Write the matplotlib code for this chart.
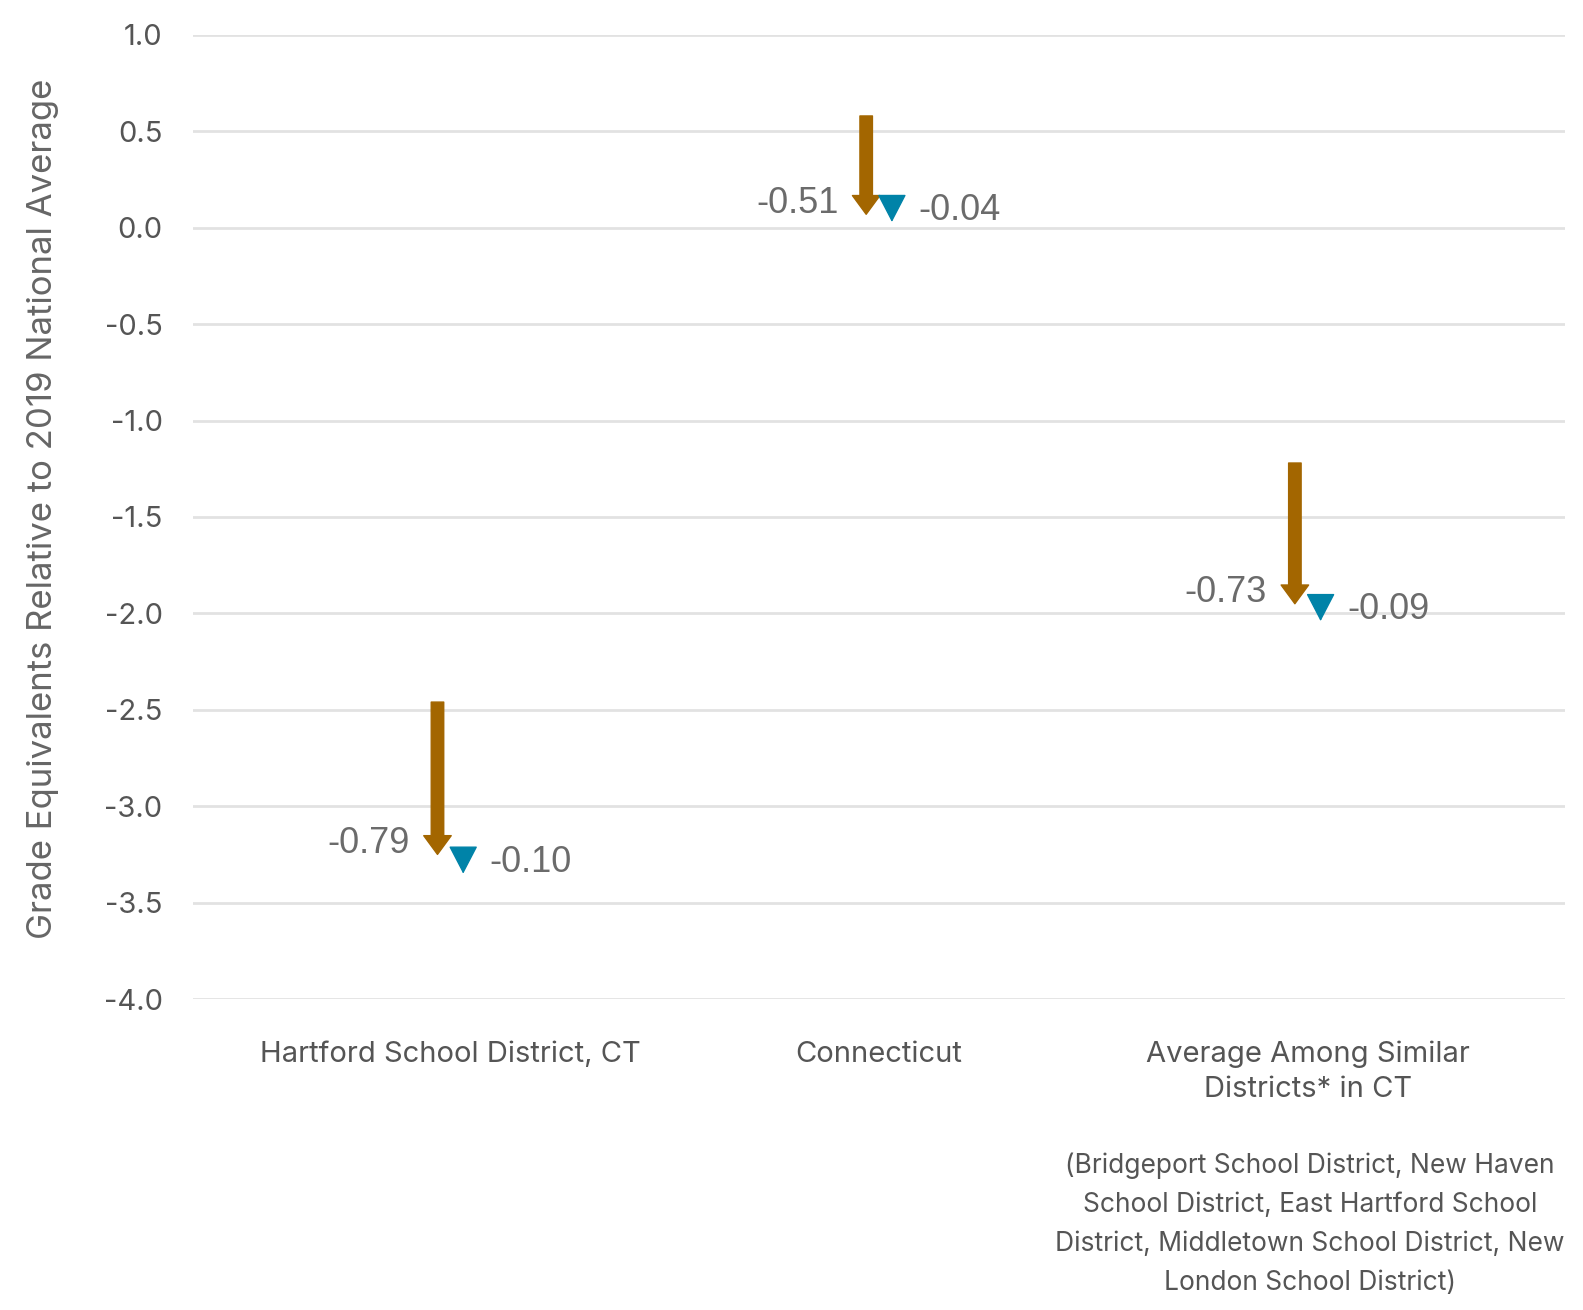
import numpy as np
import matplotlib
matplotlib.use("Agg")
from matplotlib import pyplot as plt

# data
categories = ["Hartford School District, CT", "Connecticut",
              "Average Among Similar\nDistricts* in CT"]
start_vals = [-2.46, 0.58, -1.22]      # top of the orange arrow
first_drop = [-0.79, -0.51, -0.73]     # orange arrow length
second_drop = [-0.10, -0.04, -0.09]    # blue arrow length
footnote = ("(Bridgeport School District, New Haven\nSchool District, East Hartford School\n"
            "District, Middletown School District, New\nLondon School District)")

orange = "#A36600"
blue = "#0083A8"
grey = "#6b6b6b"

plt.rcParams['font.family'] = ['Inter', 'DejaVu Sans']

fig = plt.figure(figsize=(15.83, 13.10), dpi=100)
ax = fig.add_axes([0.122, 0.2374, 0.8666, 0.7359])

x = np.arange(len(categories))
mid_vals = np.array(start_vals) + np.array(first_drop)
end_vals = mid_vals + np.array(second_drop)

for i in range(len(x)):
    xo = x[i] - 0.03
    xb = x[i] + 0.03
    ax.annotate('', xy=(xo, mid_vals[i]), xytext=(xo, start_vals[i]),
                arrowprops=dict(arrowstyle='simple,head_length=0.75,head_width=1.1,tail_width=0.5',
                                color=orange, shrinkA=0, shrinkB=0, mutation_scale=18))
    ax.annotate('', xy=(xb, end_vals[i]), xytext=(xb, mid_vals[i]),
                arrowprops=dict(arrowstyle='-|>,head_length=1.0,head_width=0.52',
                                color=blue, lw=1, shrinkA=0, shrinkB=0, mutation_scale=18))
    ax.annotate(f"{first_drop[i]:.2f}", xy=(xo, mid_vals[i]), xytext=(-20, 8),
                textcoords='offset points', ha='right', va='center',
                fontsize=26, color=grey, family=['Liberation Sans'])
    ax.annotate(f"{second_drop[i]:.2f}", xy=(xb, end_vals[i]), xytext=(19, 8),
                textcoords='offset points', ha='left', va='center',
                fontsize=26, color=grey, family=['Liberation Sans'])

ax.set_xlim(-0.6, 2.6)
ax.set_ylim(-4.0, 1.0)
ax.set_yticks(np.arange(-4.0, 1.01, 0.5))
ax.set_yticklabels([f"{v:.1f}" for v in np.arange(-4.0, 1.01, 0.5)])
ax.set_xticks(x)
ax.set_xticklabels(categories, linespacing=1.35)
ax.tick_params(axis='y', length=0, labelsize=21, labelcolor='#555555', pad=22)
ax.tick_params(axis='x', length=0, labelsize=21, labelcolor='#555555', pad=30)
ax.grid(axis='y', color='#e2e2e2', lw=2)
ax.set_axisbelow(True)
for s in ax.spines.values():
    s.set_visible(False)
ax.set_ylabel("Grade Equivalents Relative to 2019 National Average",
              fontsize=25, color='#666666', labelpad=32)
ax.yaxis.label.set_y(0.508)

fig.text(1310 / 1583, 1 - 1224 / 1310, footnote, ha='center', va='center',
         fontsize=19, color='#555555', linespacing=1.65)

plt.savefig("out.png", dpi=100)
